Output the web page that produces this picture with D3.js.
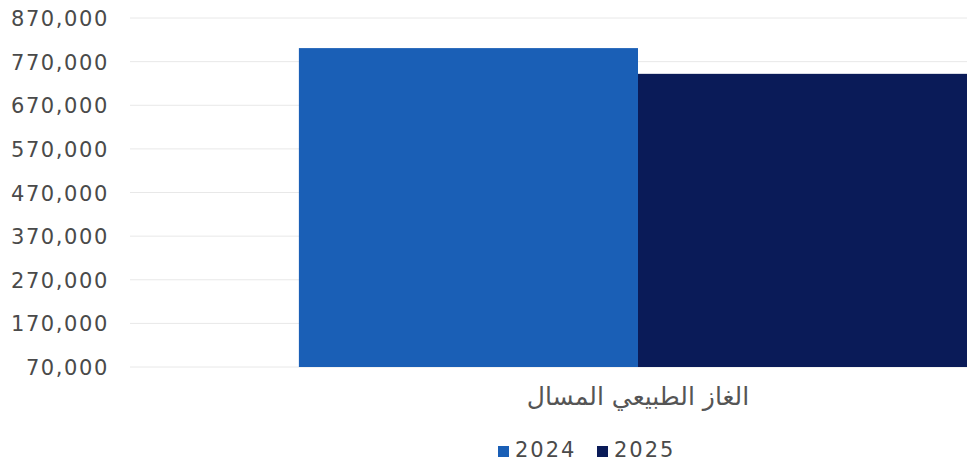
<!DOCTYPE html>
<html><head><meta charset="utf-8">
<script src="https://cdn.jsdelivr.net/npm/d3@7"></script>
<style>body{margin:0;background:#fff}svg{display:block}</style>
</head><body>
<svg id="c" width="967" height="463"></svg>
<script>
const categories = ["الغاز الطبيعي المسال"];
const seriesNames = ["2024", "2025"];
const values2024 = [801000];
const values2025 = [742000];
const tickValues = [70000,170000,270000,370000,470000,570000,670000,770000,870000];
const colors = ["#1a5fb6", "#0a1b58"];

const svg = d3.select("#c");
const W = 967, H = 463;
const y = d3.scaleLinear().domain([70000, 870000]).range([367, 18]);
const x0 = d3.scaleBand().domain(categories).range([130, 1146]).paddingInner(0).paddingOuter(0.249);
const x1 = d3.scaleBand().domain(seriesNames).range([0, x0.bandwidth()]).padding(0);

// gridlines
svg.append("g").selectAll("line").data(tickValues).join("line")
  .attr("x1", 130).attr("x2", W)
  .attr("y1", d => y(d)).attr("y2", d => y(d))
  .attr("stroke", "#e8e8e8").attr("stroke-width", 1);

// y axis labels
const yAxis = d3.axisLeft(y).tickValues(tickValues).tickSize(0).tickPadding(0)
  .tickFormat(d3.format(","));
const ga = svg.append("g").attr("transform", "translate(109,0)").call(yAxis);
ga.select(".domain").remove();
ga.selectAll("text").attr("font-family", "DejaVu Sans").attr("font-size", 21)
  .attr("fill", "#4a4a4a").attr("letter-spacing", "1.6px").attr("dy", "0.36em");

// bars
const series = [values2024, values2025];
const g = svg.append("g");
categories.forEach((c, ci) => {
  seriesNames.forEach((s, si) => {
    g.append("rect")
      .attr("x", x0(c) + x1(s))
      .attr("y", y(series[si][ci]))
      .attr("width", x1.bandwidth())
      .attr("height", y(70000) - y(series[si][ci]))
      .attr("fill", colors[si]);
  });
});

// category label
const xAxis = d3.axisBottom(x0).tickSize(0).tickPadding(0);
const gx = svg.append("g").attr("transform", "translate(0,367)").call(xAxis);
gx.select(".domain").remove();
gx.selectAll("text").attr("font-family", "DejaVu Sans").attr("font-size", 25)
  .attr("fill", "#555").attr("dy", "0").attr("y", 38);

// legend
const leg = svg.append("g");
const legX = [498, 597];
seriesNames.forEach((s, i) => {
  leg.append("rect").attr("x", legX[i]).attr("y", 446).attr("width", 11).attr("height", 11).attr("fill", colors[i]);
  leg.append("text").attr("x", legX[i] + 17).attr("y", 457).text(s)
    .attr("font-family", "DejaVu Sans").attr("font-size", 21).attr("fill", "#4a4a4a")
    .attr("letter-spacing", "2px");
});
</script>
</body></html>
